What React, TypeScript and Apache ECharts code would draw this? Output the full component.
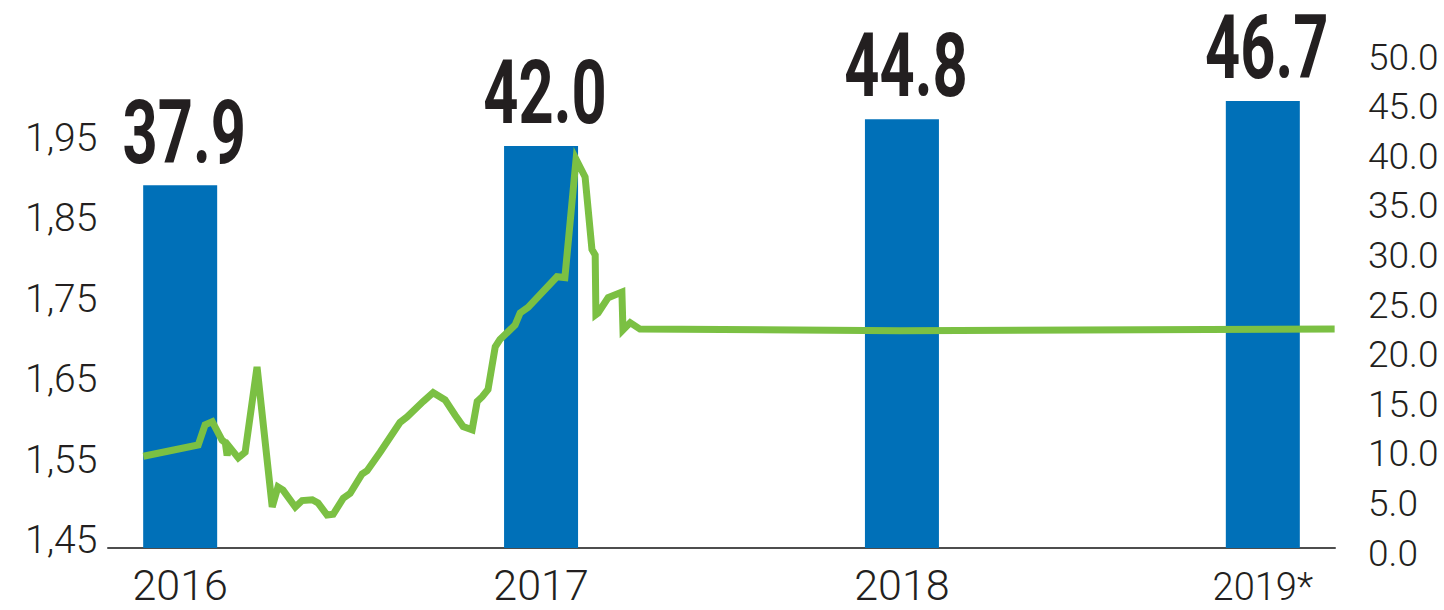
import React, { useEffect, useRef } from "react";
import * as echarts from "echarts";

// ---- data ----
const years = ["2016", "2017", "2018", "2019*"];
const barValues = [37.9, 42.0, 44.8, 46.7];

// exchange-rate line: x in year units (0 = 2016 bar centre), y = rate
const rateX = [
  -0.102, 0.05, 0.069, 0.089, 0.116, 0.125, 0.13, 0.136, 0.161, 0.18, 0.213,
  0.255, 0.271, 0.285, 0.319, 0.338, 0.366, 0.382, 0.407, 0.424, 0.452, 0.471,
  0.504, 0.518, 0.554, 0.609, 0.629, 0.673, 0.701, 0.734, 0.762, 0.784, 0.809,
  0.823, 0.837, 0.853, 0.873, 0.886, 0.928, 0.942, 0.964, 1.044, 1.066, 1.097,
  1.122, 1.141, 1.15, 1.152, 1.158, 1.186, 1.224, 1.227, 1.247, 1.274, 1.994,
  3.199,
];
const rateY = [
  1.554, 1.568, 1.593, 1.597, 1.574, 1.571, 1.555, 1.566, 1.552, 1.559, 1.665,
  1.491, 1.516, 1.512, 1.491, 1.499, 1.5, 1.496, 1.481, 1.482, 1.502, 1.508,
  1.532, 1.536, 1.559, 1.596, 1.603, 1.622, 1.633, 1.624, 1.605, 1.591, 1.587,
  1.622, 1.628, 1.637, 1.69, 1.699, 1.717, 1.732, 1.739, 1.777, 1.776, 1.923,
  1.901, 1.811, 1.804, 1.73, 1.732, 1.751, 1.758, 1.711, 1.72, 1.712, 1.71,
  1.712,
];

const FONT = 'Roboto, "Liberation Sans", sans-serif';
const TEXT = "#231f20";
const BAR = "#0070b8";
const LINE = "#7bc043";

export default function App() {
  const ref = useRef<HTMLDivElement>(null);
  useEffect(() => {
    document.body.style.margin = "0";
    const chart = echarts.init(ref.current as HTMLDivElement, null, { renderer: "svg" });
    const gridBase = { left: 108, width: 1227, top: 57 };
    const hiddenX = { type: "value", min: -0.2, max: 3.2, show: false };
    chart.setOption({
      animation: false,
      grid: [
        { ...gridBase, height: 483 },
        { ...gridBase, height: 491 },
        { ...gridBase, height: 496 },
      ],
      xAxis: [
        { ...hiddenX, gridIndex: 0 },
        {
          type: "value",
          gridIndex: 1,
          min: -0.2,
          max: 3.2,
          interval: 0.2,
          splitLine: { show: false },
          axisTick: { show: false },
          axisLine: { show: true, lineStyle: { color: "#4d4d4d", width: 2 } },
          axisLabel: {
            margin: 17,
            color: TEXT,
            fontFamily: FONT,
            fontWeight: 300,
            fontSize: 43,
            lineHeight: 40,
            showMinLabel: true,
            showMaxLabel: true,
            formatter: (v: number) => {
              const i = Math.round(v);
              if (Math.abs(v - i) > 1e-6 || i < 0 || i >= years.length) return "";
              return i === 3 ? "{s|" + years[i] + "}" : years[i];
            },
            rich: {
              s: { fontSize: 38, lineHeight: 40, fontWeight: 300, fontFamily: FONT, color: TEXT, padding: [4, 0, 0, 0] },
            },
          },
        },
        { ...hiddenX, gridIndex: 2 },
      ],
      yAxis: [
        {
          type: "value",
          gridIndex: 0,
          min: 1.45,
          max: 2.05,
          interval: 0.05,
          axisLine: { show: false },
          axisTick: { show: false },
          splitLine: { show: false },
          axisLabel: {
            align: "left",
            margin: 83,
            color: TEXT,
            fontFamily: FONT,
            fontWeight: 300,
            fontSize: 39,
            formatter: (v: number) => {
              const c = Math.round(v * 100);
              return c % 10 === 5 && c < 200 ? (c / 100).toFixed(2).replace(".", ",") : "";
            },
          },
        },
        { type: "value", gridIndex: 1, min: 0, max: 51.3, show: false },
        {
          type: "value",
          gridIndex: 2,
          position: "right",
          min: 0,
          max: 50,
          interval: 5,
          axisLine: { show: false },
          axisTick: { show: false },
          splitLine: { show: false },
          axisLabel: {
            align: "left",
            margin: 33,
            color: TEXT,
            fontFamily: FONT,
            fontWeight: 300,
            fontSize: 37,
            formatter: (v: number) => v.toFixed(1),
          },
        },
      ],
      series: [
        {
          type: "bar",
          xAxisIndex: 1,
          yAxisIndex: 1,
          barWidth: 74,
          z: 2,
          itemStyle: { color: BAR },
          data: barValues.map((v, i) => [i, v]),
        },
        {
          type: "custom",
          xAxisIndex: 1,
          yAxisIndex: 1,
          z: 6,
          silent: true,
          data: barValues.map((v, i) => [i, v]),
          renderItem: (_params: any, api: any) => {
            const pt = api.coord([api.value(0), api.value(1)]);
            return {
              type: "text",
              x: pt[0] + 4,
              y: pt[1] - 53,
              scaleX: 0.69,
              style: {
                text: Number(api.value(1)).toFixed(1),
                fill: TEXT,
                font: "bold 89px " + FONT,
                lineHeight: 66,
                align: "center",
                verticalAlign: "middle",
              },
            };
          },
        },
        {
          type: "line",
          xAxisIndex: 0,
          yAxisIndex: 0,
          z: 5,
          showSymbol: false,
          symbol: "none",
          lineStyle: { color: LINE, width: 7, join: "miter" },
          data: rateX.map((x, i) => [x, rateY[i]]),
        },
      ],
    });
    return () => chart.dispose();
  }, []);
  return <div ref={ref} style={{ width: 1444, height: 610 }} />;
}
